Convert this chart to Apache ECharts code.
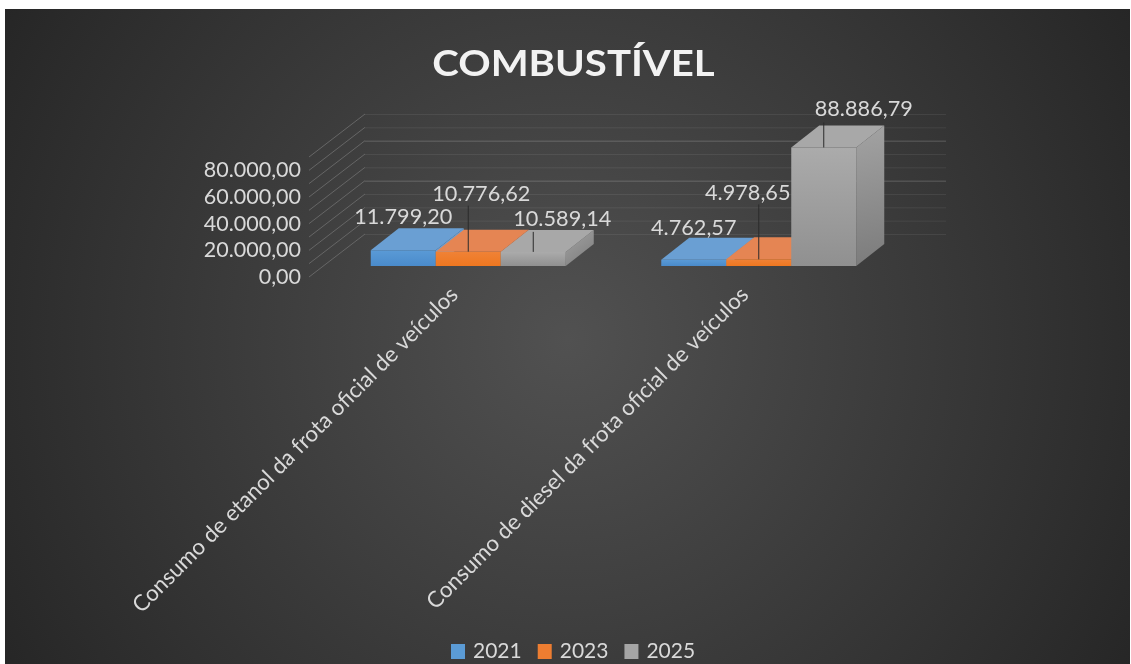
<!DOCTYPE html>
<html>
<head>
<meta charset="utf-8">
<style>html,body{margin:0;padding:0;background:#fff}#c{width:1131px;height:664px}</style>
<script src="https://cdn.jsdelivr.net/npm/echarts@6/dist/echarts.min.js"></script>
</head>
<body>
<div id="c"></div>
<script>
const categories = ['Consumo de etanol da frota oficial de veículos', 'Consumo de diesel da frota oficial de veículos'];
const years = ['2021', '2023', '2025'];
const values2021 = [11799.20, 4762.57];
const values2023 = [10776.62, 4978.65];
const values2025 = [10589.14, 88886.79];
const gridTicks = [0, 10000, 20000, 30000, 40000, 50000, 60000, 70000, 80000, 90000];
const titleText = 'COMBUSTÍVEL';

// Drawing style (not data)
const FONT = 'Lato, "Open Sans", sans-serif';
const TEXT = '#d9d9d9';
const WALL = { dx: 56, dy: -43 };
const BAR_DEPTH = { dx: 28, dy: -22 };
const BAR_START = { dx: 14, dy: -11 };
const BAR_BAND = 65 / 290.5;
const palette = [
  { legend: '#5b9bd5', frontTop: '#5a9ad6', frontBottom: '#4a8bcb', top: '#6a9fd3', side: '#6a9fd3' },
  { legend: '#ed7d31', frontTop: '#f08236', frontBottom: '#ee7720', top: '#e58553', side: '#e58553' },
  { legend: '#a5a5a5', frontTop: '#ababab', frontBottom: '#909090', top: '#a8a8a8', side: '#8b8b8b' }
];
// offset of each label's centre from the front-top centre of its bar, and its leader length
const labelPlace = [
  [{ x: 0, y: -33, lead: 0 }, { x: 0, y: -32, lead: 0 }],
  [{ x: 13, y: -58, lead: 46 }, { x: -11, y: -66, lead: 55 }],
  [{ x: 29, y: -33, lead: 20 }, { x: 40, y: -38, lead: 25 }]
];
const fmt = v => v.toLocaleString('pt-BR', { minimumFractionDigits: 2, maximumFractionDigits: 2 });

function gridRender(params, api) {
  const cs = params.coordSys;
  const v = api.value(1);
  const y = api.coord([0, v])[1];
  const bright = v === 40000 || v === 70000;
  const x0 = cs.x, x1 = cs.x + WALL.dx, x2 = cs.x + cs.width + WALL.dx;
  const y1 = y + WALL.dy;
  return {
    type: 'group', silent: true,
    children: [
      { type: 'line', shape: { x1: x0, y1: y, x2: x1, y2: y1 }, style: { stroke: '#666666', lineWidth: 1 } },
      { type: 'line', shape: { x1: x1, y1: y1 + 0.5, x2: x2, y2: y1 + 0.5 },
        style: { stroke: bright ? 'rgba(255,255,255,0.2)' : 'rgba(255,255,255,0.07)', lineWidth: 1 } }
    ]
  };
}

function barRender(s) {
  return function (params, api) {
    const cat = api.value(0), val = api.value(1);
    const band = api.size([1, 0])[0];
    const w = band * BAR_BAND;
    const base = api.coord([cat, 0]);
    const tip = api.coord([cat, val]);
    const l = base[0] + BAR_START.dx + (s - 1.5) * w;
    const r = l + w;
    const b = base[1] + BAR_START.dy;
    const t = tip[1] + BAR_START.dy;
    const d = BAR_DEPTH;
    const c = palette[s];
    const grad = (x2, y2, c1, c2) => new echarts.graphic.LinearGradient(0, 0, x2, y2, [{ offset: 0, color: c1 }, { offset: 1, color: c2 }]);
    const place = labelPlace[s][cat];
    const mid = (l + r) / 2;
    const children = [
      { type: 'polygon', shape: { points: [[r, b], [r + d.dx, b + d.dy], [r + d.dx, t + d.dy], [r, t]] },
        style: { fill: s === 2 ? grad(1, 1, '#a3a3a3', '#7b7b7b') : c.side } },
      { type: 'polygon', shape: { points: [[l, t], [r, t], [r + d.dx, t + d.dy], [l + d.dx, t + d.dy]] },
        style: { fill: c.top } },
      { type: 'rect', shape: { x: l, y: t, width: w, height: b - t },
        style: { fill: grad(0, 1, c.frontTop, c.frontBottom) } }
    ];
    if (place.lead) {
      children.push({ type: 'line', shape: { x1: mid, y1: t, x2: mid, y2: t - place.lead },
        style: { stroke: '#2b2b2b', lineWidth: 1 }, z2: 5 });
    }
    children.push({ type: 'text', z2: 6,
      style: { x: mid + place.x, y: t + place.y, text: fmt(val), fill: TEXT,
        font: '21.7px ' + FONT, textAlign: 'center', textVerticalAlign: 'middle' } });
    return { type: 'group', children };
  };
}

const barData = [values2021, values2023, values2025];
const chart = echarts.init(document.getElementById('c'), null, { renderer: 'canvas' });
chart.setOption({
  animation: false,
  backgroundColor: '#ffffff',
  graphic: [{
    type: 'rect', z: -10, silent: true,
    shape: { x: 5, y: 9, width: 1125, height: 655 },
    style: { fill: new echarts.graphic.RadialGradient(0.5, 0.505, 1.0, [
      { offset: 0, color: '#515151' }, { offset: 1, color: '#262626' }]) }
  }, {
    type: 'text', z: 10, silent: true, x: 573.5, y: 64, scaleX: 1.085,
    style: { text: titleText, fill: '#f2f2f2', font: 'bold 37px ' + FONT, textAlign: 'center', textVerticalAlign: 'middle' }
  }],
  legend: {
    data: years, bottom: -3, left: 446, itemWidth: 14, itemHeight: 15, itemGap: 16,
    icon: 'rect', selectedMode: false,
    textStyle: { color: TEXT, fontFamily: FONT, fontSize: 21, padding: [0, 0, 0, 3] }
  },
  grid: { left: 309, right: 241, top: 157, bottom: 387 },
  xAxis: {
    type: 'category', data: categories,
    axisLine: { show: false }, axisTick: { show: false }, splitLine: { show: false },
    axisLabel: { rotate: 45, color: TEXT, fontFamily: FONT, fontSize: 22.3, margin: 14, interval: 0 }
  },
  yAxis: {
    type: 'value', min: 0, max: 90000, interval: 20000,
    axisLine: { show: false }, axisTick: { show: false }, splitLine: { show: false },
    axisLabel: { showMaxLabel: false, color: TEXT, fontFamily: FONT, fontSize: 21.5, margin: 8, formatter: fmt }
  },
  series: [
    { type: 'custom', name: 'grade', renderItem: gridRender, silent: true, z: 1,
      data: gridTicks.map(v => [0, v]), encode: { x: 0, y: 1 } }
  ].concat(years.map((y, s) => ({
    type: 'custom', name: y, renderItem: barRender(s), z: 2 + s,
    itemStyle: { color: palette[s].legend },
    data: barData[s].map((v, i) => [i, v]), encode: { x: 0, y: 1 }
  })))
});
</script>
</body>
</html>
